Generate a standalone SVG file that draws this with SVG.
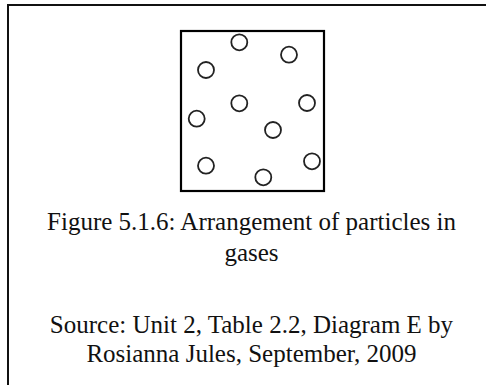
<svg xmlns="http://www.w3.org/2000/svg" width="486" height="385" viewBox="0 0 486 385">
<style>
.frame{fill:none;stroke:#111;stroke-width:2}
.box{fill:#fff;stroke:#000;stroke-width:2.2}
.p{fill:#fff;stroke:#222;stroke-width:1.8}
.t{font-family:"Liberation Serif","Times New Roman",serif;font-size:25px;fill:#111;text-anchor:middle}
</style>
<rect width="486" height="385" fill="#fff"/>
<g id="frame">
<path class="frame" d="M8,385 V5 H486"/>
</g>
<g id="box">
<rect class="box" x="181" y="31" width="143" height="160"/>
</g>
<g id="particles">
<circle class="p" cx="239.3" cy="42.3" r="8"/>
<circle class="p" cx="289" cy="54.7" r="8"/>
<circle class="p" cx="206" cy="70" r="8"/>
<circle class="p" cx="239.3" cy="103.3" r="8"/>
<circle class="p" cx="307" cy="103" r="8"/>
<circle class="p" cx="196.7" cy="118.7" r="8"/>
<circle class="p" cx="273" cy="130" r="8"/>
<circle class="p" cx="206" cy="165.7" r="8"/>
<circle class="p" cx="312" cy="161.3" r="8"/>
<circle class="p" cx="263.3" cy="177.3" r="8"/>
</g>
<g id="caption">
<text class="t" x="251.5" y="229.5">Figure 5.1.6: Arrangement of particles in</text>
<text class="t" x="251.5" y="260.5">gases</text>
</g>
<g id="source">
<text class="t" x="251.5" y="332.5">Source: Unit 2, Table 2.2, Diagram E by</text>
<text class="t" x="251.5" y="361.5">Rosianna Jules, September, 2009</text>
</g>
</svg>
